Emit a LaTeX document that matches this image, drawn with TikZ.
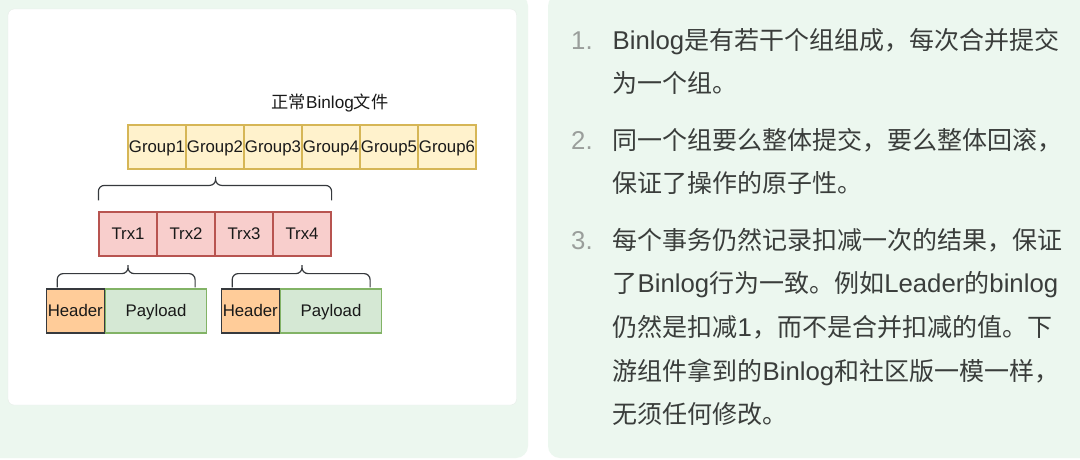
\documentclass[tikz,border=0pt]{standalone}
\usepackage{fontspec}
\setmainfont{Liberation Sans}
\newfontfamily\cjk{Noto Sans CJK SC}
\newfontfamily\lat[Scale=1.03]{Liberation Sans}
\newcommand{\la}[1]{{\lat #1}}
\usepackage{xcolor}
\usetikzlibrary{positioning,calc}
\definecolor{panelGreen}{HTML}{ECF7EF}
\definecolor{cardEdge}{HTML}{E6EDE8}
\definecolor{groupFill}{HTML}{FFF2CC}
\definecolor{groupEdge}{HTML}{D6B656}
\definecolor{trxFill}{HTML}{F8CECC}
\definecolor{trxEdge}{HTML}{B85450}
\definecolor{headFill}{HTML}{FFCC99}
\definecolor{headEdge}{HTML}{36393D}
\definecolor{loadFill}{HTML}{D5E8D4}
\definecolor{loadEdge}{HTML}{82B366}
\definecolor{bodyText}{HTML}{3A3D3B}
\definecolor{numText}{HTML}{9A9E9B}
\tikzset{
  cell/.style={draw, line width=1.2pt, inner sep=0pt, minimum height=44pt, text=black!90,
    text height=13.8pt, text depth=2.2pt, font=\fontsize{16.8}{18}\selectfont},
  groupcell/.style={cell, fill=groupFill, draw=groupEdge, minimum width=58pt},
  trxcell/.style={cell, fill=trxFill, draw=trxEdge, minimum width=58pt},
  headcell/.style={cell, fill=headFill, draw=headEdge, minimum width=58pt},
  loadcell/.style={cell, fill=loadFill, draw=loadEdge, minimum width=101pt},
  curly/.style={draw=headEdge, line width=1.2pt, rounded corners=6pt},
  bodyline/.style={anchor=base west, inner sep=0pt, text=bodyText,
    font=\cjk\fontsize{25}{26}\selectfont},
  numline/.style={bodyline, text=numText}
}

\begin{document}
\begin{tikzpicture}[x=1pt,y=-1pt]
  \useasboundingbox (0,0) rectangle (1080,459);
  \clip (0,0) rectangle (1080,459);
  \fill[white] (0,0) rectangle (1080,459);

  % panels
  \fill[panelGreen, rounded corners=12pt] (-20,-6) rectangle (528,458);
  \fill[panelGreen, rounded corners=12pt] (548,-6) rectangle (1100,458);
  \draw[cardEdge, fill=white, rounded corners=6pt] (8,9) rectangle (516.5,405);

  % left side
  \node[font=\fontsize{17.2}{18}\selectfont, text=black!90] (title) at (330,103) {{\cjk 正常}Binlog{\cjk 文件}};
  \foreach \i in {1,...,6}
    \node[groupcell] (group\i) at ({99+58*\i},147) {Group\i};
  \foreach \i in {1,...,4}
    \node[trxcell] (trx\i) at ({70+58*\i},234) {Trx\i};

  \node[loadcell] (load1) at (156,311) {Payload};
  \node[headcell, left=0pt of load1] (head1) {Header};
  \node[loadcell] (load2) at (331,311) {Payload};
  \node[headcell, left=0pt of load2] (head2) {Header};

  % curly links
  \coordinate (c1-l) at ($(trx1.north west)+(0,-11)$);
  \coordinate (c1-r) at ($(trx4.north east)+(0,-11)$);
  \coordinate (c1-m) at ($(trx2.north east)+(0,-26)$);
  \coordinate (c1-t) at ($(trx2.north east)+(0,-38)$);
  \coordinate (c2-l) at ($(head1.north west)+(11.5,-1)$);
  \coordinate (c2-r) at ($(load1.north east)+(-12,-1)$);
  \coordinate (c2-m) at ($(trx1.south)+(0,17)$);
  \coordinate (c2-t) at ($(trx1.south)+(0,5)$);
  \coordinate (c3-l) at ($(head2.north west)+(11.5,-1)$);
  \coordinate (c3-r) at ($(load2.north east)+(-12,-1)$);
  \coordinate (c3-m) at ($(trx4.south)+(0,17)$);
  \coordinate (c3-t) at ($(trx4.south)+(0,5)$);
  \foreach \c in {c1,c2,c3}
    \draw[curly] (\c-l) |- (\c-m) -- (\c-t) -- (\c-m) -| (\c-r);

  % right side
  \node[numline] (num1) at (571,49) {\la{1.}};
  \node[numline] (num2) at (571,149) {\la{2.}};
  \node[numline] (num3) at (571,249) {\la{3.}};
  \foreach \y/\txt [count=\n] in {
    49/\la{Binlog}是有若干个组组成，每次合并提交,
    92/为一个组。,
    149/同一个组要么整体提交，要么整体回滚，,
    192/保证了操作的原子性。,
    249/每个事务仍然记录扣减一次的结果，保证,
    292/了\la{Binlog}行为一致。例如\la{Leader}的\la{binlog},
    336/仍然是扣减\la{1}，而不是合并扣减的值。下,
    380/游组件拿到的\la{Binlog}和社区版一模一样，,
    423/无须任何修改。}
    \node[bodyline] (line\n) at (612.5,\y) {\txt};
\end{tikzpicture}
\end{document}
